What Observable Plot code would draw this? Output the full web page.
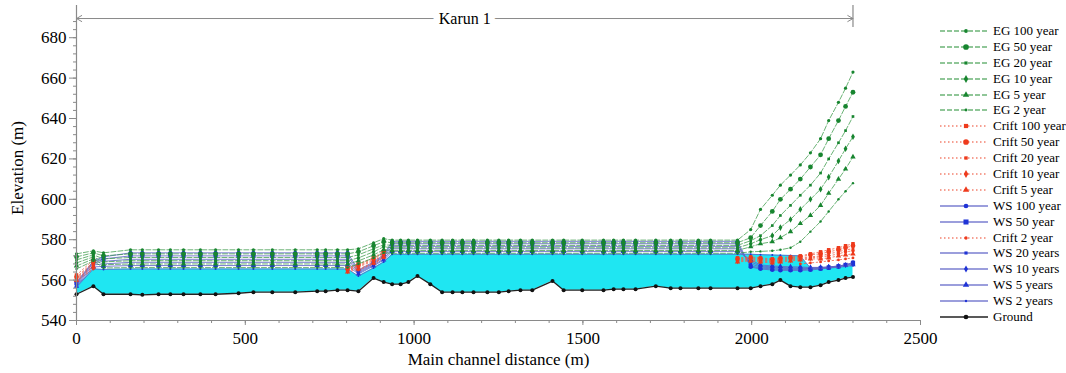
<!DOCTYPE html>
<html><head><meta charset="utf-8">
<script src="https://cdn.jsdelivr.net/npm/d3@7"></script>
<script src="https://cdn.jsdelivr.net/npm/@observablehq/plot@0.6"></script>
<style>
body{margin:0;background:#fff;}
#wrap{position:relative;width:1066px;height:373px;font-family:"Liberation Serif","Times New Roman","DejaVu Serif",serif;color:#000;}
#legend{position:absolute;left:938px;top:23px;}
.row{display:flex;align-items:center;height:15.9px;font-size:13px;white-space:nowrap;}
.row svg{margin-right:3px;flex:none;}
</style></head><body><div id="wrap"><div id="legend"></div></div>
<script>
// ---------- data ----------
const stations = [0, 50, 80, 160, 195, 243, 278, 317, 367, 412, 480, 524, 580, 648, 713, 738, 773, 803, 835, 880, 910, 935, 960, 983, 1010, 1048, 1083, 1114, 1143, 1176, 1217, 1251, 1280, 1315, 1350, 1410, 1443, 1498, 1561, 1591, 1620, 1656, 1716, 1760, 1789, 1842, 1878, 1958, 1997, 2026, 2061, 2085, 2115, 2144, 2174, 2204, 2228, 2257, 2278, 2300];
const ground = [553, 557, 553, 553, 552.7, 553, 553, 553, 553, 553, 553.5, 554, 554, 554, 554.5, 554.5, 555, 555, 554.5, 561, 559, 558, 558, 559, 562, 558, 554, 554, 554, 554, 554, 554, 554.5, 555, 555, 559.5, 555, 555, 555, 555.5, 555.5, 555.5, 557, 556, 556, 556, 556, 556, 556, 557, 558, 560, 557, 556.5, 556.5, 557.5, 559, 560, 561, 561.5];

const ws2 = [556.5, 565.5, 565.3, 565.5, 565.5, 565.5, 565.5, 565.5, 565.5, 565.5, 565.5, 565.5, 565.5, 565.5, 565.5, 565.5, 565.5, 565.5, 562, 566, 569, 572.8, 572.8, 572.8, 572.8, 572.8, 572.8, 572.8, 572.8, 572.8, 572.8, 572.8, 572.8, 572.8, 572.8, 572.8, 572.8, 572.8, 572.8, 572.8, 572.8, 572.8, 572.8, 572.8, 572.8, 572.8, 572.8, 572.8, 572.8, 572.6, 572.4, 572.3, 572.2, 572, 566, 565.8, 566, 566.3, 566.8, 567.2];
const ws5 = [557, 566.5, 566.8, 567.2, 567.2, 567.2, 567.2, 567.2, 567.2, 567.2, 567.2, 567.2, 567.2, 567.2, 567.2, 567.2, 567.2, 567.2, 563, 567, 570, 574.2, 574.2, 574.2, 574.2, 574.2, 574.2, 574.2, 574.2, 574.2, 574.2, 574.2, 574.2, 574.2, 574.2, 574.2, 574.2, 574.2, 574.2, 574.2, 574.2, 574.2, 574.2, 574.2, 574.2, 574.2, 574.2, 574.2, 570, 567.5, 567, 566.8, 566.6, 566.5, 566.3, 566.3, 566.5, 566.8, 567.2, 567.6];
const ws10 = [557.5, 567.5, 568, 568.8, 568.8, 568.8, 568.8, 568.8, 568.8, 568.8, 568.8, 568.8, 568.8, 568.8, 568.8, 568.8, 568.8, 568.8, 563.5, 567.5, 570.5, 575.5, 575.5, 575.5, 575.5, 575.5, 575.5, 575.5, 575.5, 575.5, 575.5, 575.5, 575.5, 575.5, 575.5, 575.5, 575.5, 575.5, 575.5, 575.5, 575.5, 575.5, 575.5, 575.5, 575.5, 575.5, 575.5, 575.5, 569, 567, 566.5, 566.3, 566.1, 566, 566, 566.2, 566.5, 567, 567.5, 568];
const ws20 = [558, 568.5, 569.3, 570.3, 570.3, 570.3, 570.3, 570.3, 570.3, 570.3, 570.3, 570.3, 570.3, 570.3, 570.3, 570.3, 570.3, 570.3, 564, 568, 571.5, 576.7, 576.7, 576.7, 576.7, 576.7, 576.7, 576.7, 576.7, 576.7, 576.7, 576.7, 576.7, 576.7, 576.7, 576.7, 576.7, 576.7, 576.7, 576.7, 576.7, 576.7, 576.7, 576.7, 576.7, 576.7, 576.7, 576.7, 568, 566.5, 566, 565.8, 565.7, 565.6, 565.8, 566, 566.4, 567, 567.6, 568.3];
const ws50 = [558.5, 569, 570.5, 572, 572, 572, 572, 572, 572, 572, 572, 572, 572, 572, 572, 572, 572, 572, 564.5, 568.5, 572, 578, 578, 578, 578, 578, 578, 578, 578, 578, 578, 578, 578, 578, 578, 578, 578, 578, 578, 578, 578, 578, 578, 578, 578, 578, 578, 578, 567, 566, 565.5, 565.3, 565.2, 565.2, 565.4, 565.8, 566.2, 566.8, 567.5, 568.5];
const ws100 = [559, 569.5, 571.5, 573.5, 573.5, 573.5, 573.5, 573.5, 573.5, 573.5, 573.5, 573.5, 573.5, 573.5, 573.5, 573.5, 573.5, 573.5, 565, 569, 572.5, 579.2, 579.2, 579.2, 579.2, 579.2, 579.2, 579.2, 579.2, 579.2, 579.2, 579.2, 579.2, 579.2, 579.2, 579.2, 579.2, 579.2, 579.2, 579.2, 579.2, 579.2, 579.2, 579.2, 579.2, 579.2, 579.2, 579.2, 566.5, 565.5, 565, 564.8, 564.8, 564.8, 565, 565.5, 566, 566.6, 567.4, 568.8];

const eg2 = [565.5, 569.5, 566, 566.2, 566.2, 566.2, 566.2, 566.2, 566.2, 566.2, 566.2, 566.2, 566.2, 566.2, 566.2, 566.2, 566.2, 566.2, 568, 571, 573.5, 573.3, 573.3, 573.3, 573.3, 573.3, 573.3, 573.3, 573.3, 573.3, 573.3, 573.3, 573.3, 573.3, 573.3, 573.3, 573.3, 573.3, 573.3, 573.3, 573.3, 573.3, 573.3, 573.3, 573.3, 573.3, 573.3, 573.3, 574, 574.2, 574.5, 575, 576, 579, 584, 589, 594, 600, 604, 608];
const eg5 = [567, 570.5, 567.6, 568, 568, 568, 568, 568, 568, 568, 568, 568, 568, 568, 568, 568, 568, 568, 569.5, 572.5, 575, 574.7, 574.7, 574.7, 574.7, 574.7, 574.7, 574.7, 574.7, 574.7, 574.7, 574.7, 574.7, 574.7, 574.7, 574.7, 574.7, 574.7, 574.7, 574.7, 574.7, 574.7, 574.7, 574.7, 574.7, 574.7, 574.7, 574.7, 576.5, 578, 579, 581, 584, 588, 592, 597, 603, 610, 615, 621];
const eg10 = [568.5, 571.5, 569, 569.6, 569.6, 569.6, 569.6, 569.6, 569.6, 569.6, 569.6, 569.6, 569.6, 569.6, 569.6, 569.6, 569.6, 569.6, 571, 574, 576.5, 576, 576, 576, 576, 576, 576, 576, 576, 576, 576, 576, 576, 576, 576, 576, 576, 576, 576, 576, 576, 576, 576, 576, 576, 576, 576, 576, 578, 580, 582, 586, 590, 595, 600, 605, 611, 619, 625, 631];
const eg20 = [570, 572.5, 570.5, 571.2, 571.2, 571.2, 571.2, 571.2, 571.2, 571.2, 571.2, 571.2, 571.2, 571.2, 571.2, 571.2, 571.2, 571.2, 572.5, 575.5, 577.5, 577.2, 577.2, 577.2, 577.2, 577.2, 577.2, 577.2, 577.2, 577.2, 577.2, 577.2, 577.2, 577.2, 577.2, 577.2, 577.2, 577.2, 577.2, 577.2, 577.2, 577.2, 577.2, 577.2, 577.2, 577.2, 577.2, 577.2, 579.5, 582, 587, 592, 597, 602, 607, 613, 620, 628, 634, 641];
const eg50 = [571.5, 573.5, 572, 573, 573, 573, 573, 573, 573, 573, 573, 573, 573, 573, 573, 573, 573, 573, 574, 577, 579, 578.5, 578.5, 578.5, 578.5, 578.5, 578.5, 578.5, 578.5, 578.5, 578.5, 578.5, 578.5, 578.5, 578.5, 578.5, 578.5, 578.5, 578.5, 578.5, 578.5, 578.5, 578.5, 578.5, 578.5, 578.5, 578.5, 578.5, 581, 587, 594, 600, 605, 610, 616, 622, 630, 639, 646, 653];
const eg100 = [573, 574.5, 573.5, 575, 575, 575, 575, 575, 575, 575, 575, 575, 575, 575, 575, 575, 575, 575, 575.5, 578.5, 580.5, 579.8, 579.8, 579.8, 579.8, 579.8, 579.8, 579.8, 579.8, 579.8, 579.8, 579.8, 579.8, 579.8, 579.8, 579.8, 579.8, 579.8, 579.8, 579.8, 579.8, 579.8, 579.8, 579.8, 579.8, 579.8, 579.8, 579.8, 585, 595, 602, 607, 612, 617, 623, 630, 639, 648, 655, 663];

// critical water surface only where it was computed (null breaks the line)
const critStations = [0, 50, 80, 803, 835, 880, 910, 935, 1958, 1997, 2026, 2061, 2085, 2115, 2144, 2174, 2204, 2228, 2257, 2278, 2300];
const crit2 = [559.5, 565.5, null, null, 565, 568, 571, null, null, null, null, null, null, null, 568, 568.5, 569, 569.5, 570, 570.5, 571];
const crit5 = [560, 566.5, null, 564, 565.5, 568.5, 571.5, null, 569, 569.5, 569, 568.5, 569, 569.5, 570, 570.5, 570.5, 571, 572, 572.5, 573];
const crit10 = [560.5, 567.5, null, 564.5, 566.5, 569.5, 572.5, null, 569.5, 570, 569.5, 569, 569.5, 570, 570.5, 571, 571.5, 572, 573, 574, 574.5];
const crit20 = [561, 568.5, null, 565, 567, 570, 573.5, null, 570, 570.5, 570, 569.5, 570, 570.5, 571, 571.5, 572, 573, 574, 575, 575.5];
const crit50 = [561.5, 569, null, 565.5, 567.5, 570.5, 574, null, 570.5, 571, 570.5, 570, 570.5, 571, 571.5, 572.5, 573, 574, 575, 576, 577];
const crit100 = [562.5, 570, null, 566, 568, 571, 574.5, null, 571, 571.5, 571, 570.5, 571, 571.5, 572, 573, 574, 575, 576, 577, 578];

const xTicks = [0, 500, 1000, 1500, 2000, 2500];
const yTicks = [540, 560, 580, 600, 620, 640, 660, 680];
const reach = [{name: "Karun 1", from: 0, to: 2300, mid: 1150}];

// ---------- series definitions ----------
const C = {eg: "#3a9a48", egDot: "#17852f", cr: "#f0614a", crDot: "#ee3a1c", ws: "#6266c8", wsDot: "#1f33d6", gr: "#222", grDot: "#111"};
const series = [
  {name: "EG 100 year", kind: "eg", x: stations, v: eg100, sym: "circle", r: 1.6},
  {name: "EG 50 year", kind: "eg", x: stations, v: eg50, sym: "circle", r: 2.4},
  {name: "EG 20 year", kind: "eg", x: stations, v: eg20, sym: "square", r: 1.5},
  {name: "EG 10 year", kind: "eg", x: stations, v: eg10, sym: "diamond", r: 2},
  {name: "EG 5 year", kind: "eg", x: stations, v: eg5, sym: "triangle", r: 2},
  {name: "EG 2 year", kind: "eg", x: stations, v: eg2, sym: "circle", r: 1.2},
  {name: "Crift 100 year", kind: "cr", x: critStations, v: crit100, sym: "square", r: 2},
  {name: "Crift 50 year", kind: "cr", x: critStations, v: crit50, sym: "circle", r: 2.4},
  {name: "Crift 20 year", kind: "cr", x: critStations, v: crit20, sym: "square", r: 1.6},
  {name: "Crift 10 year", kind: "cr", x: critStations, v: crit10, sym: "diamond", r: 2},
  {name: "Crift 5 year", kind: "cr", x: critStations, v: crit5, sym: "triangle", r: 2},
  {name: "WS 100 year", kind: "ws", x: stations, v: ws100, sym: "circle", r: 2},
  {name: "WS 50 year", kind: "ws", x: stations, v: ws50, sym: "square", r: 2.4},
  {name: "Crift 2 year", kind: "cr", x: critStations, v: crit2, sym: "circle", r: 1.4},
  {name: "WS 20 years", kind: "ws", x: stations, v: ws20, sym: "square", r: 1.5},
  {name: "WS 10 years", kind: "ws", x: stations, v: ws10, sym: "diamond", r: 1.8},
  {name: "WS 5 years", kind: "ws", x: stations, v: ws5, sym: "triangle", r: 2},
  {name: "WS 2 years", kind: "ws", x: stations, v: ws2, sym: "circle", r: 1},
  {name: "Ground", kind: "gr", x: stations, v: ground, sym: "circle", r: 2}
];
const style = {
  eg: {stroke: C.eg, dash: "5,2", width: 1, op: 0.75, dot: C.egDot},
  cr: {stroke: C.cr, dash: "1.5,2.5", width: 1, op: 0.8, dot: C.crDot},
  ws: {stroke: C.ws, dash: null, width: 1, op: 0.85, dot: C.wsDot},
  gr: {stroke: C.gr, dash: null, width: 1.3, op: 1, dot: C.grDot}
};
const rows = s => s.x.map((x, i) => ({x, y: s.v[i]}));

function seriesMarks(kind) {
  const out = [];
  for (const s of series.filter(d => d.kind === kind)) {
    const st = style[kind];
    out.push(Plot.line(rows(s), {x: "x", y: "y", stroke: st.stroke, strokeWidth: st.width, strokeOpacity: st.op, strokeDasharray: st.dash}));
    out.push(Plot.dot(rows(s), {x: "x", y: "y", r: s.r, symbol: s.sym, fill: st.dot, stroke: "none"}));
  }
  return out;
}

const waterRows = stations.map((x, i) => ({x, lo: ground[i], hi: ws2[i]}));
const grey = "#8a8a8a";
const font = "'Liberation Serif','Times New Roman','DejaVu Serif',serif";

const chart = Plot.plot({
  width: 1066, height: 373,
  marginLeft: 76, marginRight: 146, marginTop: 15, marginBottom: 53,
  style: {fontFamily: font, fontSize: "18px", background: "transparent", color: "#000", overflow: "visible"},
  x: {domain: [0, 2500]},
  y: {domain: [540, 691]},
  marks: [
    Plot.areaY(waterRows, {x: "x", y1: "lo", y2: "hi", fill: "#1fe6f2"}),
    ...seriesMarks("ws"),
    ...seriesMarks("cr"),
    ...seriesMarks("eg"),
    ...seriesMarks("gr"),
    // axes
    Plot.axisX(d3.range(0, 2501, 100), {tickSize: 3, tickFormat: () => "", stroke: grey, label: null}),
    Plot.axisX(xTicks, {tickSize: 5, tickPadding: 6, stroke: grey, fontSize: 17, tickFormat: d => String(d), label: "Main channel distance (m)", labelAnchor: "center", labelArrow: "none", labelOffset: 44}),
    Plot.axisY(d3.range(540, 692, 4), {tickSize: 3, tickFormat: () => "", stroke: grey, label: null}),
    Plot.axisY(yTicks, {tickSize: 7, tickPadding: 3, stroke: grey, fontSize: 17, tickFormat: d => String(d), label: "Elevation (m)", labelAnchor: "center", labelArrow: "none", labelOffset: 66}),
    Plot.ruleX([0], {y1: 540, y2: 696, stroke: grey, strokeWidth: 1.2}),
    Plot.ruleY([540], {x1: 0, x2: 2500, stroke: grey, strokeWidth: 1.2}),
    // reach bracket
    Plot.arrow(reach, {x1: "mid", x2: "from", y1: () => 689.5, y2: () => 689.5, stroke: grey, strokeWidth: 1, headLength: 9}),
    Plot.arrow(reach, {x1: "mid", x2: "to", y1: () => 689.5, y2: () => 689.5, stroke: grey, strokeWidth: 1, headLength: 9}),
    Plot.ruleX(reach, {x: "to", y1: 685, y2: 696, stroke: grey, strokeWidth: 1.2}),
    Plot.text(reach, {x: "mid", y: () => 689.5, text: "name", fill: "#000", stroke: "white", strokeWidth: 14, fontSize: 16})
  ]
});
document.getElementById("wrap").prepend(chart);

// ---------- legend ----------
const legend = document.getElementById("legend");
const symPath = {circle: d3.symbolCircle, square: d3.symbolSquare, diamond: d3.symbolDiamond, triangle: d3.symbolTriangle};
for (const s of series) {
  const st = style[s.kind];
  const row = document.createElement("div");
  row.className = "row";
  const ns = "http://www.w3.org/2000/svg";
  const svg = document.createElementNS(ns, "svg");
  svg.setAttribute("width", 52); svg.setAttribute("height", 10);
  const ln = document.createElementNS(ns, "line");
  ln.setAttribute("x1", 2); ln.setAttribute("x2", 50); ln.setAttribute("y1", 5); ln.setAttribute("y2", 5);
  ln.setAttribute("stroke", st.stroke); ln.setAttribute("stroke-width", st.width + 0.3);
  ln.setAttribute("stroke-opacity", st.op);
  if (st.dash) ln.setAttribute("stroke-dasharray", st.dash);
  svg.appendChild(ln);
  const p = document.createElementNS(ns, "path");
  const area = Math.PI * s.r * s.r * 1.4;
  p.setAttribute("d", d3.symbol(symPath[s.sym], area)());
  p.setAttribute("transform", "translate(28,5)");
  p.setAttribute("fill", st.dot);
  svg.appendChild(p);
  row.appendChild(svg);
  const t = document.createElement("span");
  t.textContent = s.name;
  row.appendChild(t);
  legend.appendChild(row);
}
</script>
</body></html>
